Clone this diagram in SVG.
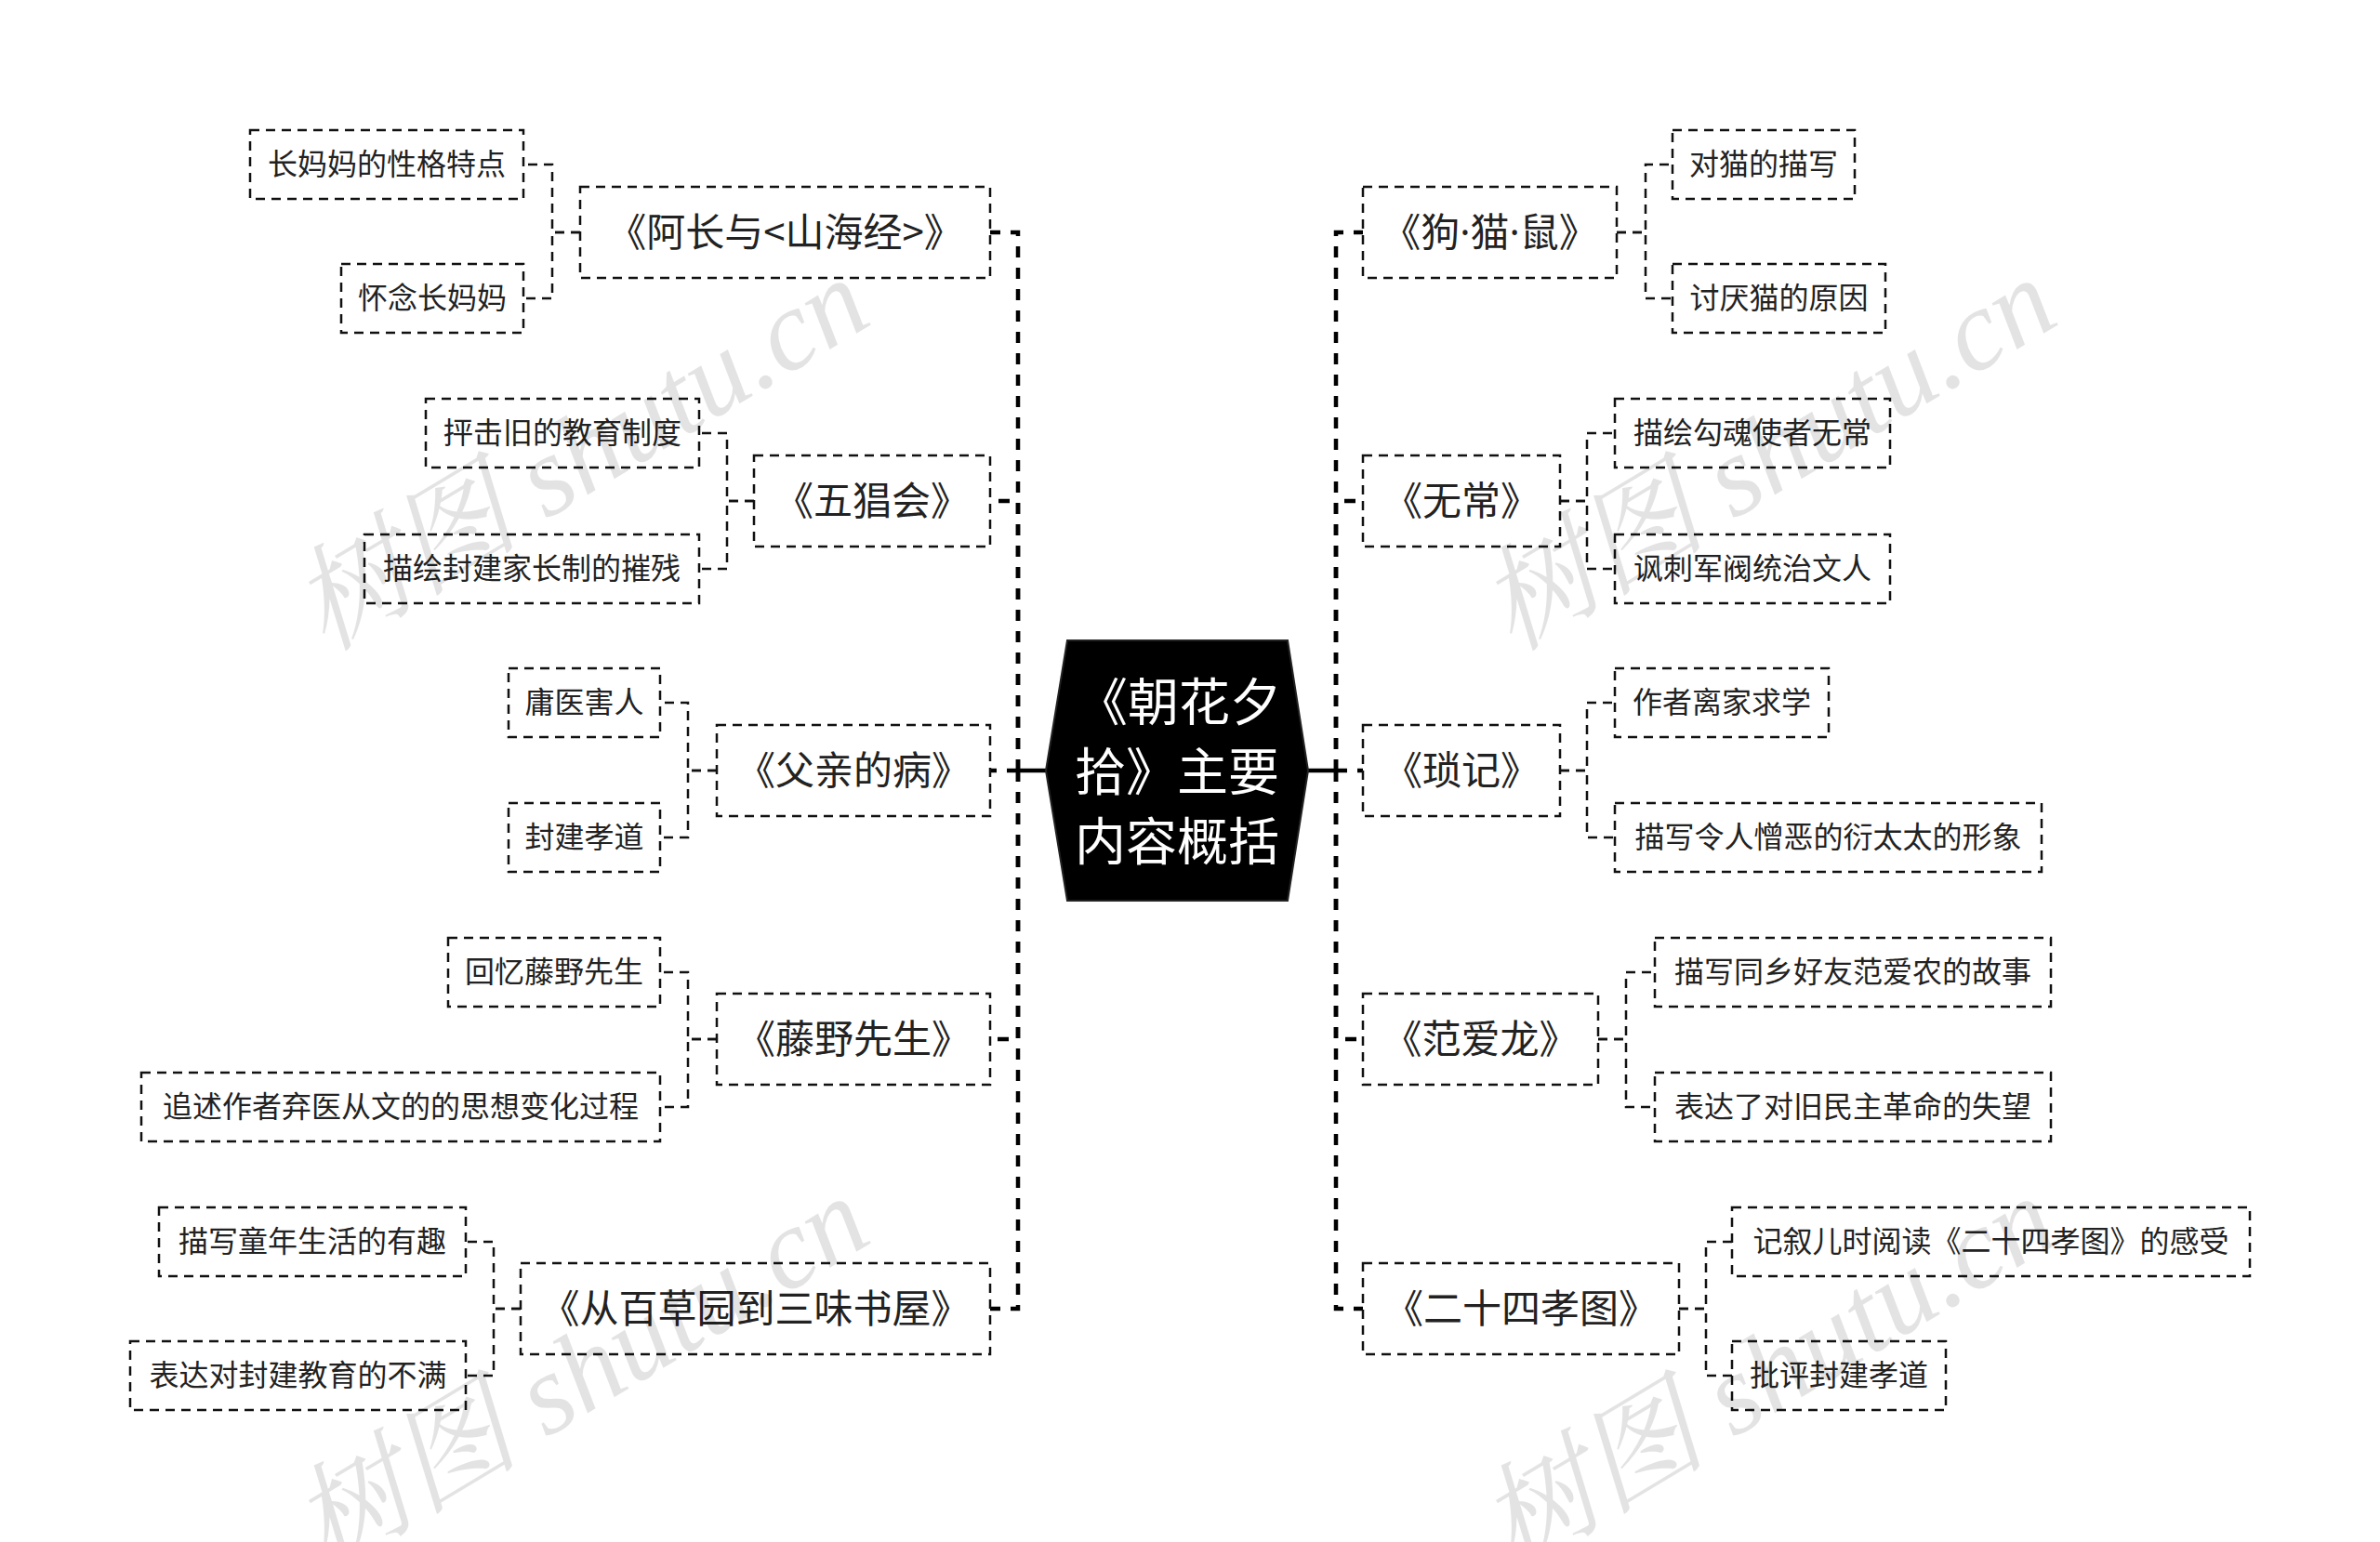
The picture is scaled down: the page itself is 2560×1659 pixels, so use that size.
<svg xmlns="http://www.w3.org/2000/svg" width="2560" height="1659" viewBox="0 0 2560 1659">
<style>
.box{fill:#fff;stroke:#111;stroke-width:2.5;stroke-dasharray:10 7}
.t1{font-family:"Noto Sans CJK SC","Noto Sans",sans-serif;font-size:42px;fill:#222;text-anchor:middle}
.t2{font-family:"Noto Sans CJK SC","Noto Sans",sans-serif;font-size:32px;fill:#222;text-anchor:middle}
.tc{font-family:"Noto Sans CJK SC","Noto Sans",sans-serif;font-size:55px;fill:#fff;text-anchor:middle}
.dot{font-family:"Noto Sans","Liberation Sans",sans-serif}
.spine{fill:none;stroke:#000;stroke-width:4.5;stroke-dasharray:12 11}
.sub{fill:none;stroke:#111;stroke-width:2.5;stroke-dasharray:10 7}
.wm{font-family:"Liberation Serif","Noto Serif CJK SC","Noto Sans CJK SC",serif;font-style:italic;font-size:123px;fill:#000;fill-opacity:0.11}
</style>
<rect width="2560" height="1659" fill="#fff"/>
<g id="connectors">
<line x1="1095" y1="829" x2="1125" y2="829" stroke="#000" stroke-width="4.5"/>
<line x1="1407" y1="829" x2="1437" y2="829" stroke="#000" stroke-width="4.5"/>
<path class="spine" d="M1095,829 V250 H1065"/>
<path class="spine" d="M1095,829 V539 H1065"/>
<path class="spine" d="M1095,829 H1065"/>
<path class="spine" d="M1095,829 V1118 H1065"/>
<path class="spine" d="M1095,829 V1408 H1065"/>
<path class="spine" d="M1437,829 V250 H1466"/>
<path class="spine" d="M1437,829 V539 H1466"/>
<path class="spine" d="M1437,829 H1466"/>
<path class="spine" d="M1437,829 V1118 H1466"/>
<path class="spine" d="M1437,829 V1408 H1466"/>
<path class="sub" d="M624,250 H594 V177 H563"/>
<path class="sub" d="M624,250 H594 V321 H563"/>
<path class="sub" d="M811,539 H782 V466 H752"/>
<path class="sub" d="M811,539 H782 V612 H752"/>
<path class="sub" d="M771,829 H740 V756 H710"/>
<path class="sub" d="M771,829 H740 V901 H710"/>
<path class="sub" d="M771,1118 H740 V1046 H710"/>
<path class="sub" d="M771,1118 H740 V1191 H710"/>
<path class="sub" d="M560,1408 H531 V1336 H501"/>
<path class="sub" d="M560,1408 H531 V1480 H501"/>
<path class="sub" d="M1739,250 H1770 V177 H1799"/>
<path class="sub" d="M1739,250 H1770 V321 H1799"/>
<path class="sub" d="M1678,539 H1707 V466 H1737"/>
<path class="sub" d="M1678,539 H1707 V612 H1737"/>
<path class="sub" d="M1678,829 H1707 V756 H1737"/>
<path class="sub" d="M1678,829 H1707 V901 H1737"/>
<path class="sub" d="M1719,1118 H1749 V1046 H1780"/>
<path class="sub" d="M1719,1118 H1749 V1191 H1780"/>
<path class="sub" d="M1806,1408 H1835 V1336 H1863"/>
<path class="sub" d="M1806,1408 H1835 V1480 H1863"/>
</g>
<g id="center">
<polygon points="1148,689 1385,689 1407,829 1385,969 1148,969 1125,829" fill="#000" stroke="#222" stroke-width="2"/>
<text class="tc" x="1268" y="775">《朝花夕</text>
<text class="tc" x="1266" y="850">拾》主要</text>
<text class="tc" x="1266" y="925">内容概括</text>
</g>
<g id="n-azhang"><rect class="box" x="624" y="201" width="441" height="98"/><text class="t1" x="844.5" y="265">《阿长与&lt;山海经&gt;》</text></g>
<g id="n-wuchang-hui"><rect class="box" x="811" y="490" width="254" height="98"/><text class="t1" x="938" y="554">《五猖会》</text></g>
<g id="n-fuqin"><rect class="box" x="771" y="780" width="294" height="98"/><text class="t1" x="918" y="844">《父亲的病》</text></g>
<g id="n-tengye"><rect class="box" x="771" y="1069" width="294" height="98"/><text class="t1" x="918" y="1133">《藤野先生》</text></g>
<g id="n-baicao"><rect class="box" x="560" y="1359" width="505" height="98"/><text class="t1" x="812.5" y="1423">《从百草园到三味书屋》</text></g>
<g id="n-gou"><rect class="box" x="1466" y="201" width="273" height="98"/><text class="t1" x="1602.5" y="265">《狗<tspan class="dot">·</tspan>猫<tspan class="dot">·</tspan>鼠》</text></g>
<g id="n-wuchang"><rect class="box" x="1466" y="490" width="212" height="98"/><text class="t1" x="1572" y="554">《无常》</text></g>
<g id="n-suoji"><rect class="box" x="1466" y="780" width="212" height="98"/><text class="t1" x="1572" y="844">《琐记》</text></g>
<g id="n-fan"><rect class="box" x="1466" y="1069" width="253" height="98"/><text class="t1" x="1592.5" y="1133">《范爱龙》</text></g>
<g id="n-ershisi"><rect class="box" x="1466" y="1359" width="340" height="98"/><text class="t1" x="1636" y="1423">《二十四孝图》</text></g>
<g id="l-1"><rect class="box" x="269" y="140" width="294" height="74"/><text class="t2" x="416" y="188">长妈妈的性格特点</text></g>
<g id="l-2"><rect class="box" x="367" y="284" width="196" height="74"/><text class="t2" x="465" y="332">怀念长妈妈</text></g>
<g id="l-3"><rect class="box" x="458" y="429" width="294" height="74"/><text class="t2" x="605" y="477">抨击旧的教育制度</text></g>
<g id="l-4"><rect class="box" x="392" y="575" width="360" height="74"/><text class="t2" x="572" y="623">描绘封建家长制的摧残</text></g>
<g id="l-5"><rect class="box" x="547" y="719" width="163" height="74"/><text class="t2" x="628.5" y="767">庸医害人</text></g>
<g id="l-6"><rect class="box" x="547" y="864" width="163" height="74"/><text class="t2" x="628.5" y="912">封建孝道</text></g>
<g id="l-7"><rect class="box" x="482" y="1009" width="228" height="74"/><text class="t2" x="596" y="1057">回忆藤野先生</text></g>
<g id="l-8"><rect class="box" x="152" y="1154" width="558" height="74"/><text class="t2" x="431" y="1202">追述作者弃医从文的的思想变化过程</text></g>
<g id="l-9"><rect class="box" x="171" y="1299" width="330" height="74"/><text class="t2" x="336" y="1347">描写童年生活的有趣</text></g>
<g id="l-10"><rect class="box" x="140" y="1443" width="361" height="74"/><text class="t2" x="320.5" y="1491">表达对封建教育的不满</text></g>
<g id="r-1"><rect class="box" x="1799" y="140" width="196" height="74"/><text class="t2" x="1897" y="188">对猫的描写</text></g>
<g id="r-2"><rect class="box" x="1799" y="284" width="229" height="74"/><text class="t2" x="1913.5" y="332">讨厌猫的原因</text></g>
<g id="r-3"><rect class="box" x="1737" y="429" width="296" height="74"/><text class="t2" x="1885" y="477">描绘勾魂使者无常</text></g>
<g id="r-4"><rect class="box" x="1737" y="575" width="296" height="74"/><text class="t2" x="1885" y="623">讽刺军阀统治文人</text></g>
<g id="r-5"><rect class="box" x="1737" y="719" width="230" height="74"/><text class="t2" x="1852" y="767">作者离家求学</text></g>
<g id="r-6"><rect class="box" x="1737" y="864" width="459" height="74"/><text class="t2" x="1966.5" y="912">描写令人憎恶的衍太太的形象</text></g>
<g id="r-7"><rect class="box" x="1780" y="1009" width="426" height="74"/><text class="t2" x="1993" y="1057">描写同乡好友范爱农的故事</text></g>
<g id="r-8"><rect class="box" x="1780" y="1154" width="426" height="74"/><text class="t2" x="1993" y="1202">表达了对旧民主革命的失望</text></g>
<g id="r-9"><rect class="box" x="1863" y="1299" width="557" height="74"/><text class="t2" x="2141.5" y="1347">记叙儿时阅读《二十四孝图》的感受</text></g>
<g id="r-10"><rect class="box" x="1863" y="1443" width="230" height="74"/><text class="t2" x="1978" y="1491">批评封建孝道</text></g>
<g id="watermarks">
<text class="wm" transform="translate(350,702) rotate(-31)">树图 shutu.cn</text>
<text class="wm" transform="translate(1627,702) rotate(-31)">树图 shutu.cn</text>
<text class="wm" transform="translate(350,1690) rotate(-31)">树图 shutu.cn</text>
<text class="wm" transform="translate(1627,1690) rotate(-31)">树图 shutu.cn</text>
</g>
</svg>
